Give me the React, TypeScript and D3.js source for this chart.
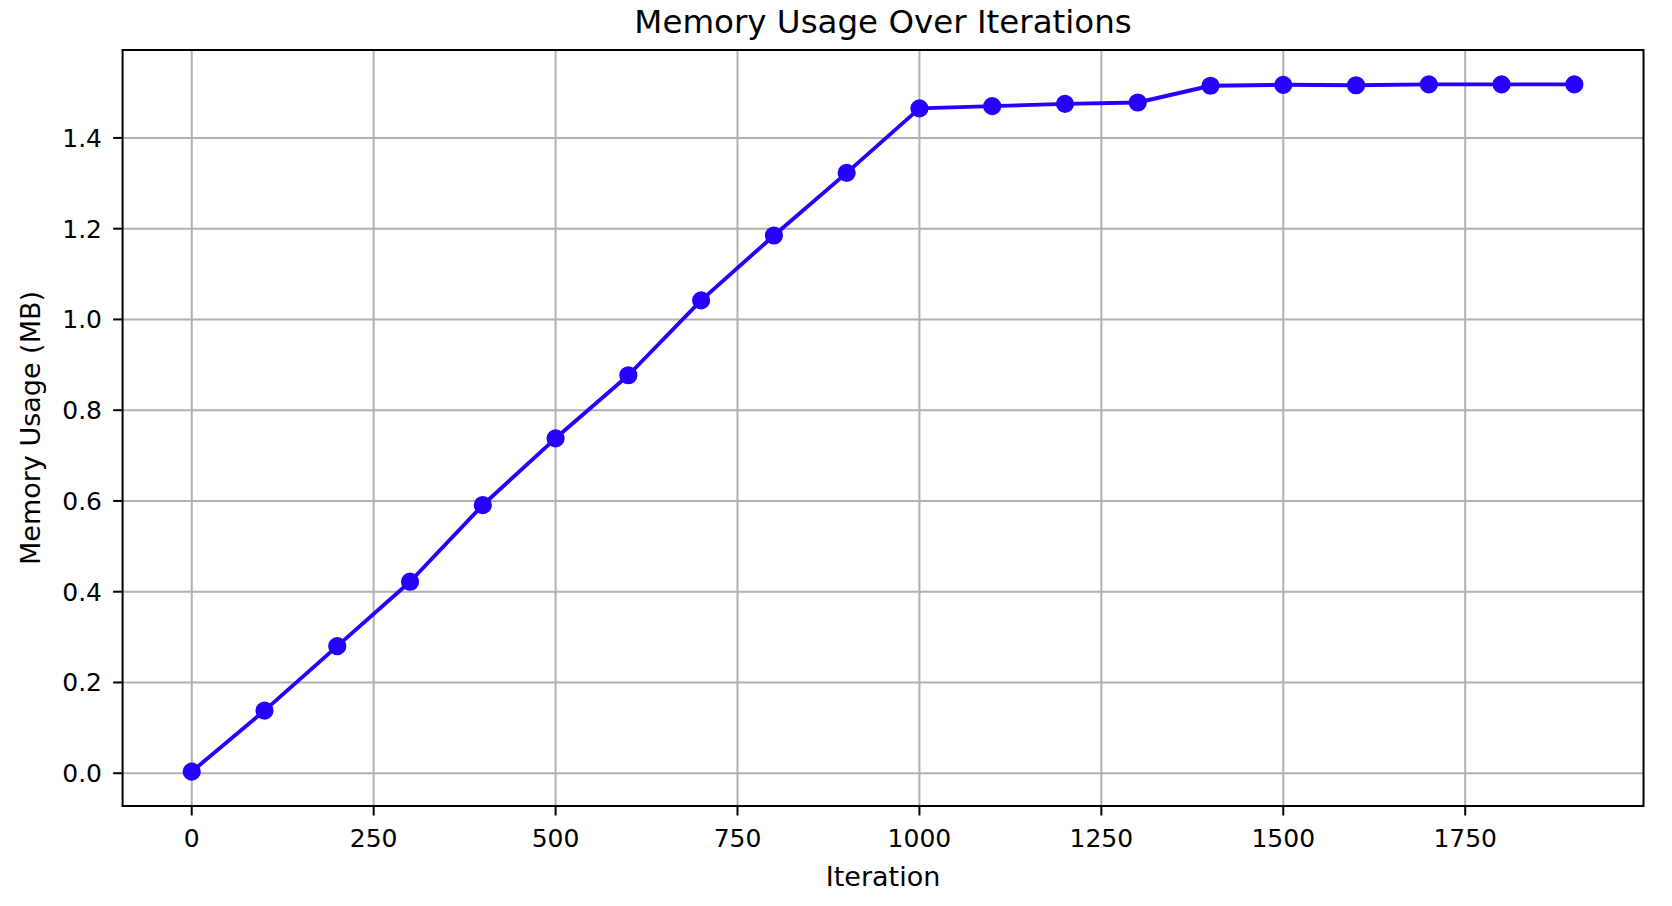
import React from "react";
import * as d3 from "d3";

const iterations = [0, 100, 200, 300, 400, 500, 600, 700, 800, 900, 1000, 1100, 1200, 1300, 1400, 1500, 1600, 1700, 1800, 1900];
const memoryMB = [0.0035, 0.138, 0.280, 0.422, 0.591, 0.738, 0.877, 1.042, 1.185, 1.323, 1.465, 1.470, 1.475, 1.478, 1.515, 1.517, 1.516, 1.518, 1.518, 1.518];
const xTicks = [0, 250, 500, 750, 1000, 1250, 1500, 1750];
const yTicks = [0.0, 0.2, 0.4, 0.6, 0.8, 1.0, 1.2, 1.4];
const title = "Memory Usage Over Iterations";
const xLabel = "Iteration";
const yLabel = "Memory Usage (MB)";

const W = 1672;
const H = 906;
const M = { left: 122.6, right: 1643.5, top: 50, bottom: 806 };
const FONT = "'DejaVu Sans', sans-serif";
const COLOR = "#2400ff";

export default function App() {
  const [xMin, xMax] = d3.extent(iterations) as [number, number];
  const [yMin, yMax] = d3.extent(memoryMB) as [number, number];
  const xPad = (xMax - xMin) * 0.05;
  const yPad = (yMax - yMin) * 0.05;
  const x = d3.scaleLinear().domain([xMin - xPad, xMax + xPad]).range([M.left, M.right]);
  const y = d3.scaleLinear().domain([yMin - yPad, yMax + yPad]).range([M.bottom, M.top]);
  const line = d3.line<number>().x((_, i) => x(iterations[i])).y((d) => y(d));
  const path = line(memoryMB) || "";

  return (
    <svg width={W} height={H} style={{ position: "absolute", left: 0, top: 0, background: "#fff" }} fontFamily={FONT}>
      <rect x={0} y={0} width={W} height={H} fill="#fff" />
      {/* grid */}
      {xTicks.map((t) => (
        <line key={"gx" + t} x1={x(t)} x2={x(t)} y1={M.top} y2={M.bottom} stroke="#b0b0b0" strokeWidth={2} />
      ))}
      {yTicks.map((t) => (
        <line key={"gy" + t} x1={M.left} x2={M.right} y1={y(t)} y2={y(t)} stroke="#b0b0b0" strokeWidth={2} />
      ))}
      {/* data */}
      <path d={path} fill="none" stroke={COLOR} strokeWidth={3.9} strokeLinejoin="round" strokeLinecap="square" />
      {memoryMB.map((v, i) => (
        <circle key={"p" + i} cx={x(iterations[i])} cy={y(v)} r={7.8} fill={COLOR} stroke={COLOR} strokeWidth={2.6} />
      ))}
      {/* frame */}
      <rect x={M.left} y={M.top} width={M.right - M.left} height={M.bottom - M.top} fill="none" stroke="#000" strokeWidth={2} />
      {/* x ticks */}
      {xTicks.map((t) => (
        <g key={"xt" + t}>
          <line x1={x(t)} x2={x(t)} y1={M.bottom} y2={M.bottom + 9.5} stroke="#000" strokeWidth={2} />
          <text x={x(t)} y={846.5} textAnchor="middle" fontSize={25} fill="#000">
            {t}
          </text>
        </g>
      ))}
      {/* y ticks */}
      {yTicks.map((t) => (
        <g key={"yt" + t}>
          <line x1={M.left - 9.5} x2={M.left} y1={y(t)} y2={y(t)} stroke="#000" strokeWidth={2} />
          <text x={102} y={y(t)} dy="0.36em" textAnchor="end" fontSize={25} fill="#000">
            {t.toFixed(1)}
          </text>
        </g>
      ))}
      {/* labels */}
      <text x={(M.left + M.right) / 2} y={885.5} textAnchor="middle" fontSize={27} fill="#000">
        {xLabel}
      </text>
      <text transform={`translate(40,${(M.top + M.bottom) / 2}) rotate(-90)`} textAnchor="middle" fontSize={27} fill="#000">
        {yLabel}
      </text>
      <text x={(M.left + M.right) / 2} y={32.5} textAnchor="middle" fontSize={32.5} fill="#000">
        {title}
      </text>
    </svg>
  );
}
